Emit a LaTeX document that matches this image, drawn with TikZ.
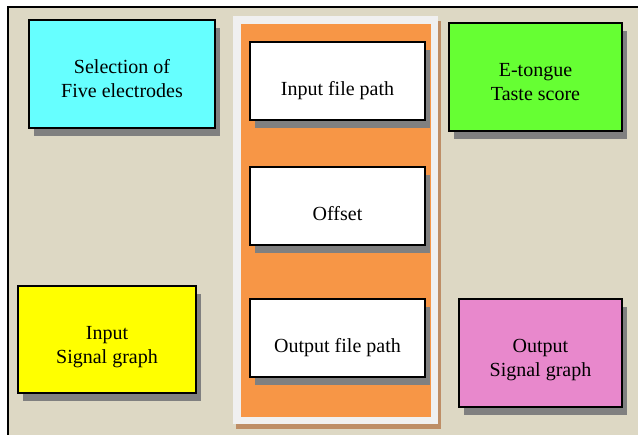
\documentclass[tikz,border=0pt]{standalone}
\usepackage{fontspec}
\setmainfont{Liberation Serif}
\newfontfamily\boxfont{Liberation Serif}
\usetikzlibrary{shadows}
\definecolor{sand}{HTML}{DDD8C4}
\definecolor{boxcyan}{HTML}{66FFFF}
\definecolor{boxgreen}{HTML}{66FF33}
\definecolor{boxyellow}{HTML}{FFFF00}
\definecolor{boxpink}{HTML}{E888CC}
\definecolor{boxorange}{HTML}{F79646}
\definecolor{panelgray}{HTML}{F0F0F0}
\definecolor{panelshadow}{HTML}{BE8E66}
\definecolor{shadowgray}{HTML}{808080}
\begin{document}
\begin{tikzpicture}[x=1pt,y=-1pt,
  every node/.style={font=\boxfont\fontsize{20}{24}\selectfont},
  card/.style={draw=black, line width=1.4pt, rectangle, anchor=north west,
    outer sep=0pt, inner sep=0pt,
    drop shadow={shadow xshift=5pt, shadow yshift=-8pt, fill=shadowgray, opacity=1}},
  lbl/.style={align=center, inner sep=0pt}]
\useasboundingbox (0,0) rectangle (638,435);
\fill[white] (0,0) rectangle (638,435);
% outer frame
\begin{scope}
  \clip (0,0) rectangle (638,435);
  \draw[line width=1.5pt, fill=sand] (8,7) rectangle (660,460);
\end{scope}
% central panel
\node[rectangle, anchor=north west, outer sep=0pt, inner sep=0pt, fill=panelgray,
  minimum width=205pt, minimum height=408pt,
  drop shadow={shadow xshift=3pt, shadow yshift=-5pt, fill=panelshadow, opacity=1}]
  (panel) at (233,16) {};
\node[rectangle, anchor=north west, outer sep=0pt, inner sep=0pt, fill=boxorange,
  minimum width=190pt, minimum height=393pt] (core) at (241,24) {};
% boxes
\node[card, fill=boxcyan, minimum width=186pt, minimum height=108pt,
  label={[lbl, yshift=-4.5pt]center:{Selection of\\Five electrodes}}] (sel) at (29,20) {};
\node[card, fill=boxgreen, minimum width=173pt, minimum height=108pt,
  label={[lbl, yshift=-5pt]center:{E-tongue\\Taste score}}] (tongue) at (449,23) {};
\node[card, fill=boxyellow, minimum width=178pt, minimum height=107pt,
  label={[lbl, yshift=-7.5pt]center:{Input\\Signal graph}}] (insig) at (18,286) {};
\node[card, fill=boxpink, minimum width=163pt, minimum height=108pt,
  label={[lbl, yshift=-7pt]center:{Output\\Signal graph}}] (outsig) at (459,299) {};
\node[card, fill=white, minimum width=175pt, minimum height=78pt,
  label={[lbl, yshift=-10pt]center:{Input file path}}] (inpath) at (250,42) {};
\node[card, fill=white, minimum width=175pt, minimum height=78pt,
  label={[lbl, yshift=-8pt]center:{Offset}}] (offset) at (250,167) {};
\node[card, fill=white, minimum width=175pt, minimum height=78pt,
  label={[lbl, yshift=-10pt]center:{Output file path}}] (outpath) at (250,299) {};
\end{tikzpicture}
\end{document}
